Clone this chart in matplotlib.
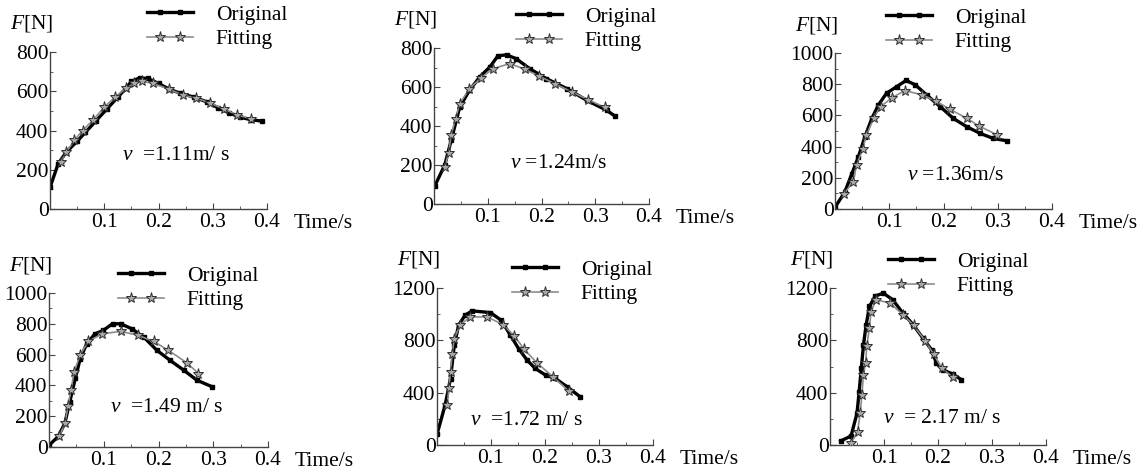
import matplotlib
matplotlib.use("Agg")
import numpy as np
import matplotlib.pyplot as plt
from matplotlib.ticker import MultipleLocator
from matplotlib.legend_handler import HandlerLine2DCompound
from matplotlib.lines import Line2D

plt.rcParams['font.family'] = ['Liberation Serif', 'DejaVu Serif']
plt.rcParams['mathtext.fontset'] = 'custom'
plt.rcParams['mathtext.rm'] = 'Liberation Serif'
plt.rcParams['mathtext.it'] = 'Liberation Serif:italic'
FS = 15.5
plt.rcParams['font.size'] = FS


class InsetMarkers(HandlerLine2DCompound):
    # full-length legend line, two markers set in from the ends
    def get_xdata(self, legend, xdescent, ydescent, width, height, fontsize):
        pad = 0.6 * fontsize
        line_x = np.array([-xdescent, -xdescent + width])
        mark_x = np.linspace(-xdescent + pad, -xdescent + width - pad, 2)
        return line_x, mark_x


# ---- data (time in s, force in N) ----
t1_orig = [0.0, 0.015, 0.03, 0.05, 0.065, 0.085, 0.105, 0.125, 0.14, 0.15, 0.165, 0.18, 0.2, 0.22,
           0.24, 0.265, 0.29, 0.31, 0.33, 0.35, 0.37, 0.39]
f1_orig = [110, 230, 290, 345, 390, 450, 510, 570, 615, 650, 668, 665, 640, 610,
           590, 570, 545, 515, 490, 468, 455, 448]
t1_fit = [0.02, 0.03, 0.045, 0.06, 0.08, 0.1, 0.12, 0.14, 0.155, 0.17, 0.19, 0.22, 0.245, 0.27,
          0.295, 0.32, 0.345, 0.37]
f1_fit = [240, 290, 350, 400, 455, 520, 570, 615, 640, 650, 640, 610, 580, 565,
          540, 510, 480, 460]

t2_orig = [0.001, 0.02, 0.032, 0.048, 0.066, 0.085, 0.104, 0.119, 0.135, 0.153, 0.178, 0.209,
           0.247, 0.284, 0.321, 0.337]
f2_orig = [90, 200, 327, 498, 583, 651, 703, 760, 765, 745, 694, 643, 592, 532, 481, 450]
t2_fit = [0.02, 0.027, 0.032, 0.04, 0.048, 0.066, 0.088, 0.11, 0.141, 0.169, 0.196, 0.225,
          0.256, 0.287, 0.318]
f2_fit = [191, 259, 353, 438, 515, 592, 648, 694, 720, 691, 655, 617, 575, 535, 495]

t3_orig = [0.0, 0.018, 0.031, 0.043, 0.055, 0.068, 0.08, 0.095, 0.114, 0.131, 0.148, 0.169,
           0.194, 0.218, 0.243, 0.268, 0.292, 0.317]
f3_orig = [11, 108, 226, 333, 462, 581, 667, 742, 785, 824, 796, 731, 656, 581, 527, 484, 452, 437]
t3_fit = [0.017, 0.033, 0.04, 0.051, 0.058, 0.071, 0.084, 0.105, 0.129, 0.161, 0.186, 0.212,
          0.243, 0.266, 0.298]
f3_fit = [97, 176, 280, 387, 473, 581, 656, 714, 759, 731, 692, 639, 581, 531, 477]

t4_orig = [0.0, 0.017, 0.029, 0.038, 0.048, 0.057, 0.069, 0.084, 0.099, 0.116, 0.131, 0.151,
           0.173, 0.197, 0.221, 0.246, 0.27, 0.298]
f4_orig = [11, 69, 155, 295, 445, 574, 671, 735, 757, 800, 800, 768, 714, 628, 563, 499, 434, 391]
t4_fit = [0.019, 0.029, 0.035, 0.04, 0.046, 0.057, 0.072, 0.097, 0.131, 0.163, 0.191, 0.218,
          0.252, 0.273]
f4_fit = [69, 155, 269, 370, 488, 600, 686, 735, 751, 725, 686, 628, 546, 477]

t5_orig = [0.0, 0.015, 0.025, 0.032, 0.04, 0.052, 0.065, 0.099, 0.119, 0.136, 0.151, 0.167,
           0.182, 0.201, 0.219, 0.241, 0.265]
f5_orig = [81, 305, 508, 763, 915, 992, 1025, 1012, 953, 839, 737, 648, 585, 534, 509, 445, 369]
t5_fit = [0.019, 0.022, 0.025, 0.028, 0.032, 0.043, 0.062, 0.093, 0.122, 0.143, 0.162, 0.185,
          0.215, 0.244]
f5_fit = [305, 432, 559, 699, 814, 920, 979, 979, 920, 834, 730, 628, 521, 412]

t6_orig = [0.02, 0.039, 0.05, 0.054, 0.058, 0.062, 0.067, 0.073, 0.084, 0.099, 0.116, 0.135,
           0.154, 0.172, 0.188, 0.197, 0.209, 0.228, 0.243]
f6_orig = [31, 69, 243, 408, 587, 766, 919, 1059, 1140, 1160, 1111, 1008, 919, 817, 728, 626,
           574, 541, 500]
t6_fit = [0.039, 0.051, 0.056, 0.059, 0.062, 0.066, 0.068, 0.073, 0.076, 0.085, 0.111, 0.135,
          0.155, 0.176, 0.192, 0.207, 0.228]
f6_fit = [13, 102, 243, 383, 536, 625, 753, 894, 1016, 1110, 1085, 996, 914, 797, 694, 587, 516]

speeds = ["$v$  =1.11m/ s", "$v$ =1.24m/s", "$v$ =1.36m/s",
          "$v$  =1.49 m/ s", "$v$  =1.72 m/ s", "$v$  = 2.17 m/ s"]
text_pos = [(0.133, 275), (0.141, 210), (0.132, 215), (0.112, 256), (0.062, 191), (0.098, 204)]

panels = [(t1_orig, f1_orig, t1_fit, f1_fit, 800, 200),
          (t2_orig, f2_orig, t2_fit, f2_fit, 800, 200),
          (t3_orig, f3_orig, t3_fit, f3_fit, 1000, 200),
          (t4_orig, f4_orig, t4_fit, f4_fit, 1000, 200),
          (t5_orig, f5_orig, t5_fit, f5_fit, 1200, 400),
          (t6_orig, f6_orig, t6_fit, f6_fit, 1200, 400)]

# axes boxes in pixels: left, right, y of x-axis, y of top
W, H = 1145, 475
boxes = [(50, 267, 209, 52), (434, 649, 204, 48), (835, 1052, 209, 53),
         (49, 268, 447, 293), (437, 653, 445, 288), (830, 1046, 445, 288)]
# legend anchor (left x, middle y between rows) in pixels
leg_anchor = [(147, 27), (516, 29), (886, 30), (118, 288), (512, 282), (888, 274)]

fig = plt.figure(figsize=(W / 100, H / 100), dpi=100)

for i, (to, fo, tf, ff, ymax, ystep) in enumerate(panels):
    l, r, b, t = boxes[i]
    ax = fig.add_axes([l / W, (H - b) / H, (r - l) / W, (b - t) / H])
    ax.plot(to, fo, color='black', lw=2.4, marker='s', ms=3.5, label='Original', zorder=2)
    ax.plot(tf, ff, color='#8c8c8c', lw=1.2, marker='*', ms=8, mfc='#a8a8a8',
            mec='#303030', mew=0.7, label='Fitting', zorder=3)
    ax.set_xlim(0, 0.4)
    ax.set_ylim(0, ymax)
    ax.set_xticks([0.1, 0.2, 0.3, 0.4])
    ax.set_xticklabels(['0.1', '0.2', '0.3', '0.4'])
    ax.yaxis.set_major_locator(MultipleLocator(ystep))
    ax.yaxis.set_minor_locator(MultipleLocator(ystep / 2))
    ax.xaxis.set_minor_locator(MultipleLocator(0.05))
    for s in ['top', 'right']:
        ax.spines[s].set_visible(False)
    for s in ['left', 'bottom']:
        ax.spines[s].set_color('#444444')
        ax.spines[s].set_linewidth(1.0)
    ax.tick_params(which='both', direction='in', color='#444444', labelsize=FS)
    ax.tick_params(which='major', length=4)
    ax.tick_params(which='minor', length=2.5)
    ax.tick_params(axis='y', pad=1)
    ax.tick_params(axis='x', pad=3)
    ax.patch.set_visible(False)

    ax.text(text_pos[i][0], text_pos[i][1], speeds[i], fontsize=FS, ha='left', va='center')
    ax.annotate('$F$[N]', xy=(0, 1), xycoords='axes fraction', xytext=(3, 28),
                textcoords='offset pixels', ha='right', va='center', fontsize=FS)
    ax.annotate('Time/s', xy=(1, 0), xycoords='axes fraction', xytext=(27, -5),
                textcoords='offset pixels', ha='left', va='top', fontsize=FS)

    ax.legend(loc='center left', bbox_to_anchor=(leg_anchor[i][0] / W, 1 - leg_anchor[i][1] / H),
              bbox_transform=fig.transFigure, frameon=False, numpoints=2, fontsize=FS,
              borderpad=0, borderaxespad=0, handlelength=2.15, handletextpad=1.05,
              labelspacing=0.22, handler_map={Line2D: InsetMarkers()})

plt.savefig("out.png", dpi=100)
